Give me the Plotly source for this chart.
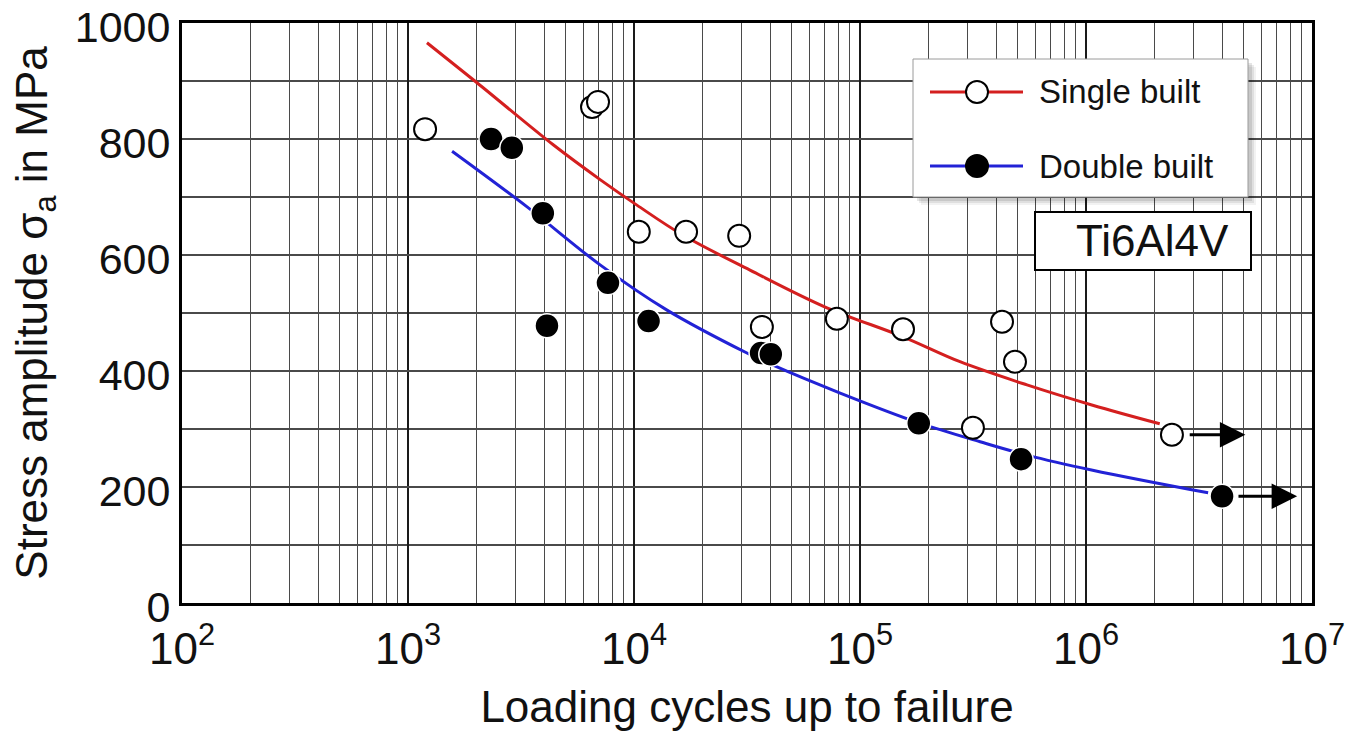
import numpy as np
import plotly.graph_objects as go

# ---------------- data ----------------
single_N = [1190, 6520, 6930, 10500, 17000, 29200, 36800, 79000, 155000, 425000, 485000, 316000, 2400000]
single_S = [817, 855, 864, 640, 640, 633, 476, 490, 472, 485, 416, 302, 290]

double_N = [2330, 2880, 3950, 7670, 4120, 11600, 36500, 40300, 182000, 516000, 4000000]
double_S = [800, 785, 672, 552, 478, 486, 431, 429, 310, 248, 184]

single_fit_N = [1213, 2020, 4390, 7080, 10300, 16500, 32600, 71400, 155000, 277000, 548000, 1070000, 2120000]
single_fit_S = [966, 897, 790, 730, 686, 634, 574, 509, 459, 416, 376, 341, 309]

double_fit_N = [1567, 3365, 7080, 14000, 31600, 41200, 81700, 184000, 340000, 548000, 1070000, 3470000]
double_fit_S = [779, 683, 583, 505, 431, 410, 362, 310, 278, 255, 229, 190]

x_tick_vals = [1e2, 1e3, 1e4, 1e5, 1e6, 1e7]
x_tick_text = ["10<sup>2</sup>", "10<sup>3</sup>", "10<sup>4</sup>", "10<sup>5</sup>",
               "10<sup>6</sup>", "10<sup>7</sup>"]
y_tick_vals = [0, 200, 400, 600, 800, 1000]

series_names = ["Single built", "Double built"]
material_label = "Ti6Al4V"

RED = "#d41f1f"
BLUE = "#2222d6"
FONT = "Liberation Sans, Arial, Helvetica, sans-serif"

# plot area in pixels
L, R, T, B = 182, 1312, 23, 603
W, H = 1357, 735


def pxp(x):
    return (x - L) / (R - L)


def pyp(y):
    return (B - y) / (B - T)


fig = go.Figure()

# fitted curves
fig.add_trace(go.Scatter(x=single_fit_N, y=single_fit_S, mode="lines",
                         line=dict(color=RED, width=3, shape="spline"),
                         showlegend=False, hoverinfo="skip"))
fig.add_trace(go.Scatter(x=double_fit_N, y=double_fit_S, mode="lines",
                         line=dict(color=BLUE, width=3, shape="spline"),
                         showlegend=False, hoverinfo="skip"))

# data points
fig.add_trace(go.Scatter(x=single_N, y=single_S, mode="markers", name=series_names[0],
                         marker=dict(symbol="circle", size=22, color="white",
                                     line=dict(color="black", width=2)),
                         showlegend=False))
fig.add_trace(go.Scatter(x=double_N, y=double_S, mode="markers", name=series_names[1],
                         marker=dict(symbol="circle", size=24, color="black",
                                     line=dict(color="white", width=1.5)),
                         showlegend=False))

# run-out arrows (from last points of each series)
annotations = []
for N_list, S_list, tail, head in [(single_N, single_S, 0.072, 0.325),
                                    (double_N, double_S, 0.066, 0.332)]:
    lx = np.log10(N_list[-1])
    ly = S_list[-1]
    annotations.append(dict(x=lx + head, y=ly, ax=lx + tail, ay=ly,
                            xref="x", yref="y", axref="x", ayref="y",
                            showarrow=True, arrowhead=2, arrowsize=1.7,
                            arrowwidth=3, arrowcolor="black", text=""))

# ----- hand-drawn legend box (like the reference) -----
shapes = []
for off, a in [(8, 0.05), (6, 0.08), (4, 0.10)]:
    shapes.append(dict(type="rect", xref="paper", yref="paper",
                       x0=pxp(913 + off), x1=pxp(1248 + off),
                       y0=pyp(197 + off), y1=pyp(59 + off),
                       fillcolor=f"rgba(0,0,0,{a})", line=dict(width=0)))
shapes.append(dict(type="rect", xref="paper", yref="paper",
                   x0=pxp(913), x1=pxp(1248), y0=pyp(197), y1=pyp(59),
                   fillcolor="white", line=dict(color="#9a9a9a", width=1)))
for row_y, col, fill, outline in [(92, RED, "white", "black"), (166, BLUE, "black", "black")]:
    shapes.append(dict(type="line", xref="paper", yref="paper",
                       x0=pxp(930), x1=pxp(1023), y0=pyp(row_y), y1=pyp(row_y),
                       line=dict(color=col, width=3)))
    shapes.append(dict(type="circle", xref="paper", yref="paper",
                       xsizemode="pixel", ysizemode="pixel",
                       xanchor=pxp(977), yanchor=pyp(row_y),
                       x0=-11, x1=11, y0=-11, y1=11,
                       fillcolor=fill, line=dict(color=outline, width=2)))
for row_y, name in [(92, series_names[0]), (166, series_names[1])]:
    annotations.append(dict(x=pxp(1037), y=pyp(row_y), xref="paper", yref="paper",
                            text=name, showarrow=False, xanchor="left", yanchor="middle",
                            font=dict(family=FONT, size=33, color="#111")))

# material label box
shapes.append(dict(type="rect", xref="paper", yref="paper",
                   x0=pxp(1035), x1=pxp(1251), y0=pyp(270), y1=pyp(212),
                   fillcolor="white", line=dict(color="black", width=2)))
annotations.append(dict(x=pxp(1231), y=pyp(241), xref="paper", yref="paper",
                        text=material_label, showarrow=False, xanchor="right",
                        yanchor="middle", font=dict(family=FONT, size=44, color="#111")))

fig.update_layout(
    width=W, height=H,
    margin=dict(l=L, r=W - R, t=T, b=H - B, pad=0),
    paper_bgcolor="white", plot_bgcolor="white",
    font=dict(family=FONT, size=44, color="#111"),
    shapes=shapes, annotations=annotations,
    showlegend=False,
)

fig.update_xaxes(
    type="log", range=[2, 7], automargin=False,
    tickvals=x_tick_vals, ticktext=x_tick_text,
    tickfont=dict(size=44), ticklabeloverflow="allow", ticklabelstandoff=5,
    showgrid=True, gridcolor="#1a1a1a", gridwidth=2,
    minor=dict(dtick="D1", showgrid=True, gridcolor="#4a4a4a", gridwidth=1.3, ticks=""),
    showline=True, linecolor="black", linewidth=3, mirror=True,
    ticks="", zeroline=False,
    title=dict(text="Loading cycles up to failure", font=dict(size=44), standoff=20),
)
fig.update_yaxes(
    range=[0, 1000], tickvals=y_tick_vals, automargin=False,
    tickfont=dict(size=43), ticklabeloverflow="allow", ticklabelshift=4,
    showgrid=True, gridcolor="#4a4a4a", gridwidth=1.5,
    minor=dict(dtick=100, showgrid=True, gridcolor="#4a4a4a", gridwidth=1.5, ticks=""),
    showline=True, linecolor="black", linewidth=3, mirror=True,
    ticks="", zeroline=False,
    title=dict(text="Stress amplitude σ<sub>a</sub> in MPa", font=dict(size=44), standoff=14),
)

fig.write_html("out.html")
